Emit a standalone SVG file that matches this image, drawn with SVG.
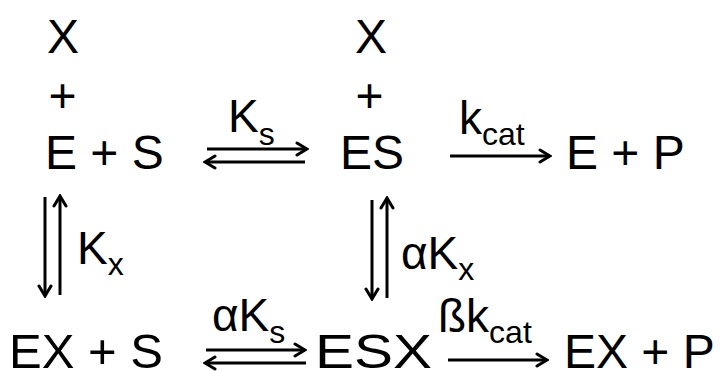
<svg xmlns="http://www.w3.org/2000/svg" width="720" height="371" viewBox="0 0 720 371">
<style>
text{font-family:"Liberation Sans",Arial,sans-serif;fill:#000}
.m{font-size:48px}
.l{font-size:46px}
.s{font-size:32px}
.a{stroke:#000;stroke-width:3;fill:none;marker-end:url(#h)}
</style>
<defs>
<marker id="h" viewBox="-12 -8 14 16" markerWidth="14" markerHeight="16" refX="0" refY="0" orient="auto" markerUnits="userSpaceOnUse">
<path d="M-10,-6 L0,0 L-10,6" fill="none" stroke="#000" stroke-width="3" stroke-linejoin="miter" stroke-linecap="round"/>
</marker>
</defs>
<rect width="720" height="371" fill="#fff"/>
<g id="n-ES-X">
<text class="m" x="63" y="53" text-anchor="middle">X</text>
<text class="m" x="62.5" y="112" text-anchor="middle">+</text>
<text class="m" x="45" y="169">E + S</text>
</g>
<g id="n-ES">
<text class="m" x="371" y="53" text-anchor="middle">X</text>
<text class="m" x="369.5" y="112" text-anchor="middle">+</text>
<text class="m" x="372" y="169" text-anchor="middle">ES</text>
</g>
<g id="n-EP">
<text class="m" x="566" y="169">E + P</text>
</g>
<g id="n-EXS">
<text class="m" x="9" y="368" textLength="154" lengthAdjust="spacingAndGlyphs">EX + S</text>
</g>
<g id="n-ESX">
<text class="m" x="315" y="368" textLength="117" lengthAdjust="spacingAndGlyphs">ESX</text>
</g>
<g id="n-EXP">
<text class="m" x="564" y="368">EX + P</text>
</g>
<g id="connectors">
<line class="a" x1="207" y1="149" x2="307" y2="149"/>
<line class="a" x1="305" y1="162" x2="205" y2="162"/>
<line class="a" x1="450" y1="156" x2="550" y2="156"/>
<line class="a" x1="45" y1="197" x2="45" y2="296"/>
<line class="a" x1="60" y1="295" x2="60" y2="196"/>
<line class="a" x1="372" y1="200" x2="372" y2="299"/>
<line class="a" x1="387" y1="298" x2="387" y2="198"/>
<line class="a" x1="206" y1="350" x2="305" y2="350"/>
<line class="a" x1="306" y1="363" x2="205" y2="363"/>
<line class="a" x1="448" y1="360" x2="547" y2="360"/>
<text class="l" x="228" y="132">K<tspan class="s" dy="13">s</tspan></text>
<text class="l" x="459" y="134">k<tspan class="s" dy="11">cat</tspan></text>
<text class="l" x="77" y="264">K<tspan class="s" dy="11">x</tspan></text>
<text class="l" x="401" y="269">αK<tspan class="s" dy="11">x</tspan></text>
<text class="l" x="212" y="331">αK<tspan class="s" dy="12">s</tspan></text>
<text class="l" x="438" y="332">ßk<tspan class="s" dy="11">cat</tspan></text>
</g>
</svg>
